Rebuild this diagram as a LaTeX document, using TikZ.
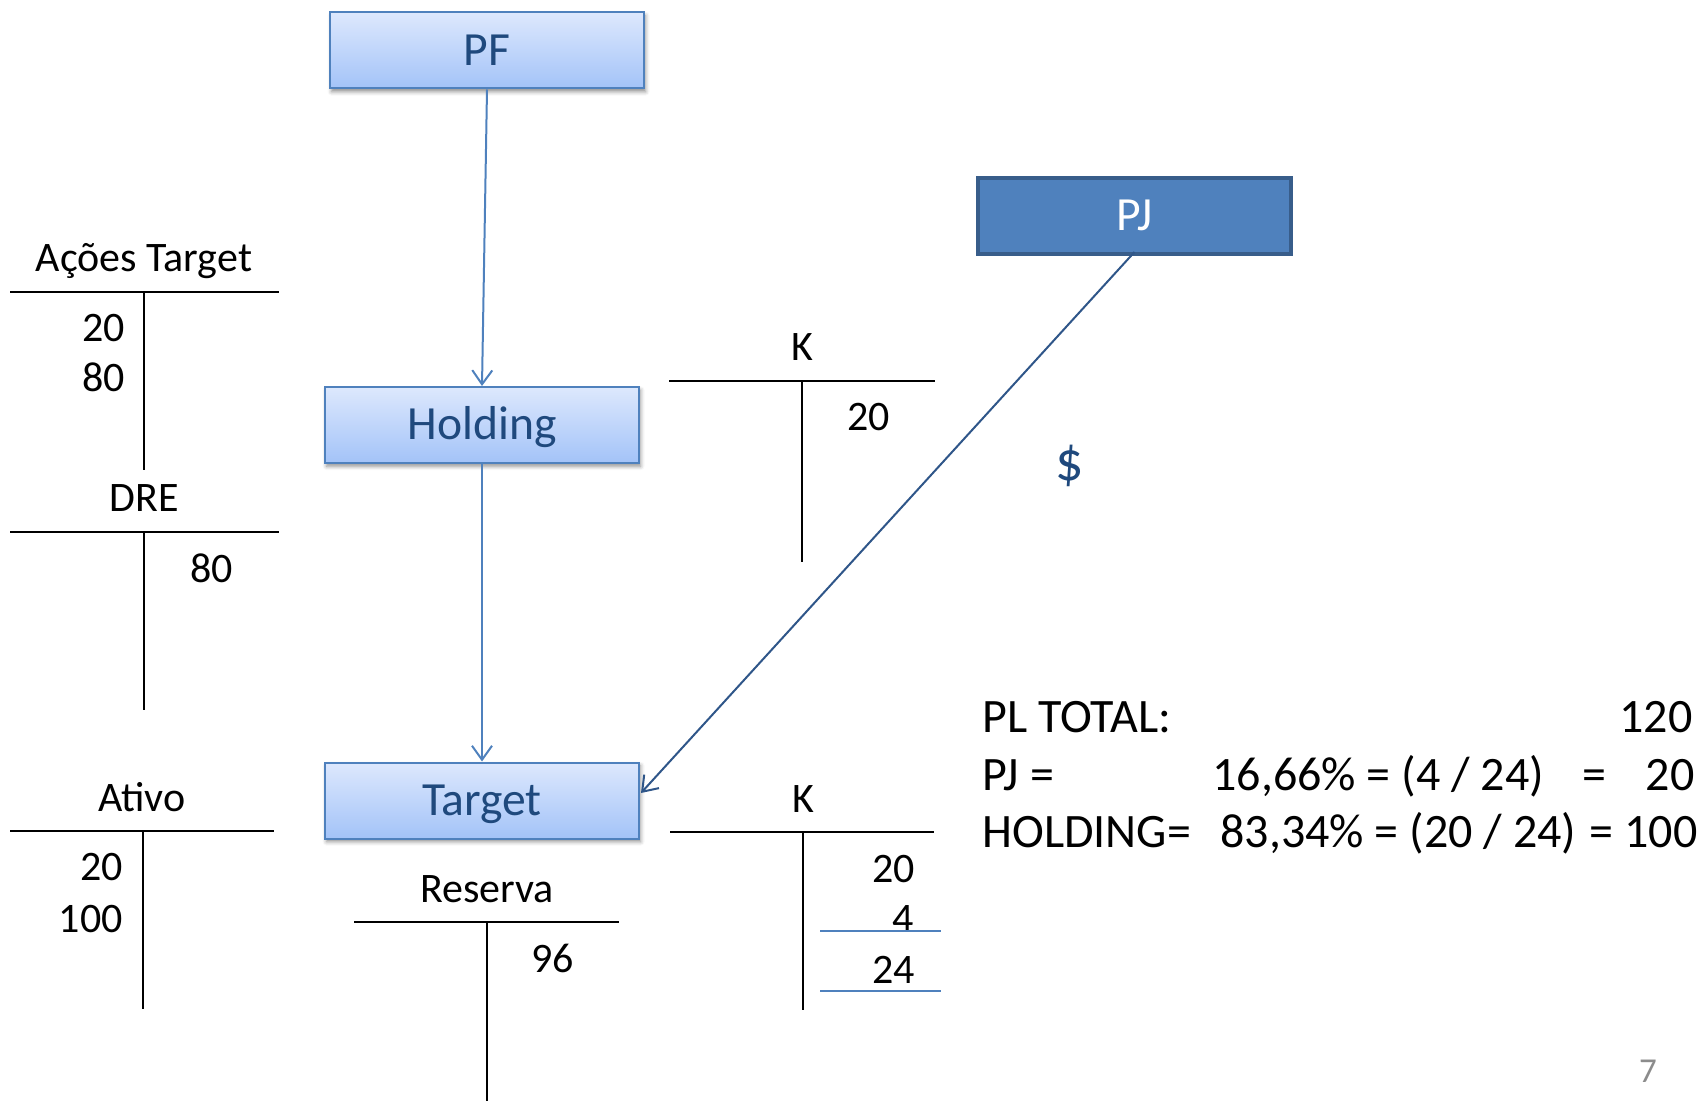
\documentclass[tikz,border=0pt]{standalone}
\usepackage{fontspec}
\setmainfont{Carlito}
\usetikzlibrary{arrows.meta,shadows.blur}

\definecolor{boxedge}{HTML}{4F81BD}
\definecolor{boxtop}{HTML}{DDE8FD}
\definecolor{boxbot}{HTML}{A3C3F8}
\definecolor{boxtext}{HTML}{1F497D}
\definecolor{pjfill}{HTML}{4F81BD}
\definecolor{pjedge}{HTML}{385D8A}
\definecolor{linkdark}{HTML}{2F5689}
\definecolor{pagegray}{HTML}{8C8C8C}

\begin{document}
\begin{tikzpicture}[x=0.5pt,y=-0.5pt,
  entity/.style={draw=boxedge, line width=1pt, top color=boxtop, bottom color=boxbot,
    minimum width=157pt, minimum height=38pt, inner sep=0pt, text=boxtext,
    font=\fontsize{23.8}{28}\selectfont, text height=15pt, text depth=0pt,
    blur shadow={shadow xshift=0.8pt, shadow yshift=-1.6pt, shadow blur radius=2pt, shadow opacity=45}},
  pjbox/.style={draw=pjedge, line width=2pt, fill=pjfill, minimum width=156.5pt,
    minimum height=38pt, inner sep=0pt, text=white,
    font=\fontsize{23.8}{28}\selectfont, text height=15pt, text depth=0pt},
  flow/.style={draw=boxedge, line width=1pt, -{Straight Barb[length=7pt,width=10pt]}},
  flowdark/.style={draw=linkdark, line width=1pt, -{Straight Barb[length=7pt,width=10pt]}},
  tline/.style={line width=1.3pt, black},
  sumline/.style={line width=0.8pt, boxedge},
  tlabel/.style={inner sep=0pt, font=\fontsize{21}{25}\selectfont},
  calc/.style={inner sep=0pt, font=\fontsize{24}{28}\selectfont},
]
\useasboundingbox (0,0) rectangle (1704,1101);

% entities
\node[entity] (pf) at (487,50.5) {PF};
\node[entity] (hd) at (482,425) {Holding};
\node[entity] (tg) at (482,800.5) {Target};
\node[pjbox]  (pj) at (1134.5,216) {PJ};
\coordinate (tgin) at (641,793);

\draw[flow] (pf.south) -- (hd.north);
\draw[flow] (hd.south) -- (tg.north);
\draw[flowdark] ([yshift=2pt]pj.south) -- (tgin);

\node[text=boxtext, inner sep=0pt, font=\fontsize{28}{32}\selectfont] (cash) at (1070,466) {\$};

% T-account: Ações Target
\node[tlabel, anchor=base] (acoes) at (144,272) {Ações Target};
\draw[tline] (10,292) -- (279,292) (144,292) -- (144,470);
\node[tlabel, anchor=base east] (acoes1) at (125,342) {20};
\node[tlabel, anchor=base east] (acoes2) at (125,392) {80};

% T-account: DRE
\node[tlabel, anchor=base] (dre) at (144,512) {DRE};
\draw[tline] (10,532) -- (279,532) (144,532) -- (144,710);
\node[tlabel, anchor=base east] (dre1) at (233,582) {80};

% T-account: K (Holding)
\node[tlabel, anchor=base] (kh) at (802,361) {K};
\draw[tline] (669,381) -- (935,381) (802,381) -- (802,562);
\node[tlabel, anchor=base east] (kh1) at (890,431) {20};

% T-account: Ativo
\node[tlabel, anchor=base] (ativo) at (142,811) {Ativo};
\draw[tline] (10,831) -- (274,831) (143,831) -- (143,1009);
\node[tlabel, anchor=base east] (ativo1) at (123,880) {20};
\node[tlabel, anchor=base east] (ativo2) at (123,932) {100};

% T-account: Reserva
\node[tlabel, anchor=base] (res) at (487,902) {Reserva};
\draw[tline] (354,922) -- (619,922) (487,922) -- (487,1101);
\node[tlabel, anchor=base east] (res1) at (574,972) {96};

% T-account: K (Target)
\node[tlabel, anchor=base] (kt) at (803,812) {K};
\draw[tline] (670,832) -- (934,832) (803,832) -- (803,1010);
\node[tlabel, anchor=base east] (kt1) at (915,882) {20};
\node[tlabel, anchor=base east] (kt2) at (914,932) {4};
\node[tlabel, anchor=base east] (kt3) at (915,983) {24};
\draw[sumline] (820,931) -- (941,931) (820,991) -- (941,991);

% equity split
\node[calc, anchor=base west] (pl) at (982,732) {PL TOTAL:};
\node[calc, anchor=base east] (plv) at (1693,732) {120};
\node[calc, anchor=base west] (pjl) at (982,790) {PJ =};
\node[calc, anchor=base west] (pjf) at (1212,790) {16,66\% = (4 / 24)};
\node[calc, anchor=base] (pje) at (1594,790) {=};
\node[calc, anchor=base east] (pjv) at (1695,790) {20};
\node[calc, anchor=base west] (hl) at (982,847) {HOLDING=};
\node[calc, anchor=base west] (hf) at (1220,847) {83,34\% = (20 / 24)};
\node[calc, anchor=base east] (hv) at (1698,847) {= 100};

% page number
\node[inner sep=0pt, anchor=base, text=pagegray, font=\fontsize{17.5}{20}\selectfont] (page) at (1648,1082) {7};
\end{tikzpicture}
\end{document}
